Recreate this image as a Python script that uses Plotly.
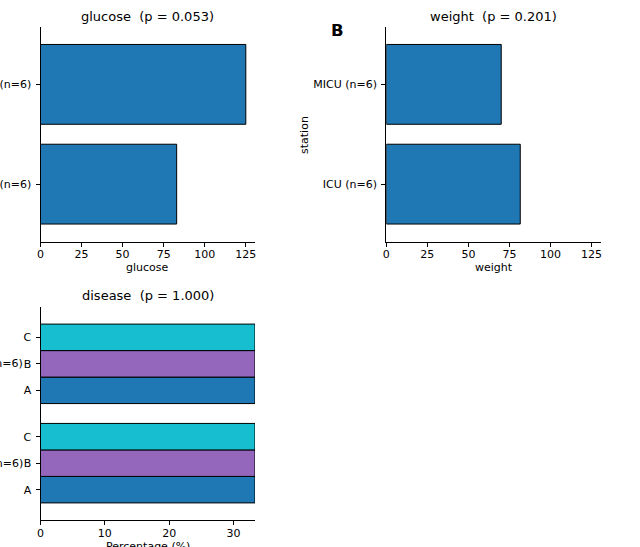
import plotly.graph_objects as go

# ---- data ----
stations = ["ICU (n=6)", "MICU (n=6)"]
glucose = [82.9, 125.0]
weight = [81.6, 70.0]
disease_cats = ["A", "B", "C"]
disease_A = [33.33, 33.33]
disease_B = [33.33, 33.33]
disease_C = [33.33, 33.33]
disease_vals = [disease_A, disease_B, disease_C]
disease_colors = ["#1f77b4", "#9467bd", "#17becf"]
titles = ["glucose  (p = 0.053)", "weight  (p = 0.201)", "disease  (p = 1.000)"]

W, H = 640, 547
FONT = "DejaVu Sans"
BLUE = "#1f77b4"
FS = 11

def px(x):
    return x / W

def py(y):
    return 1 - y / H

fig = go.Figure()

ypos = list(range(len(stations)))

# glucose
fig.add_trace(go.Bar(x=glucose, y=ypos, orientation="h", width=0.8,
                     marker=dict(color=BLUE, line=dict(color="black", width=1)),
                     xaxis="x", yaxis="y", showlegend=False))
# weight
fig.add_trace(go.Bar(x=weight, y=ypos, orientation="h", width=0.8,
                     marker=dict(color=BLUE, line=dict(color="black", width=1)),
                     xaxis="x2", yaxis="y2", showlegend=False))
# disease (grouped)
bw = 0.8 / len(disease_cats)
dis_tickvals, dis_ticktext = [], []
for j, (cat, vals, col) in enumerate(zip(disease_cats, disease_vals, disease_colors)):
    off = (j - (len(disease_cats) - 1) / 2) * bw
    yy = [i + off for i in ypos]
    fig.add_trace(go.Bar(x=vals, y=yy, orientation="h", width=bw,
                         marker=dict(color=col, line=dict(color="black", width=1)),
                         xaxis="x3", yaxis="y3", showlegend=False))
    dis_tickvals += yy
    dis_ticktext += [cat] * len(yy)

top_dom = [py(241.5), py(27)]
bot_dom = [py(520.3), py(306.7)]
xd1 = [px(40.5), px(255)]
xd2 = [px(386.3), px(600.7)]

axis_common = dict(showline=True, linecolor="black", linewidth=1, mirror=False,
                   showgrid=False, zeroline=False, ticks="outside", ticklen=4,
                   tickwidth=1, tickcolor="black", automargin=False,
                   tickfont=dict(family=FONT, size=FS, color="black"))
xax = dict(axis_common, ticklabelstandoff=-2)
yax = dict(axis_common, ticklabelstandoff=2)

fig.update_layout(
    width=W, height=H, margin=dict(l=0, r=0, t=0, b=0, autoexpand=False),
    paper_bgcolor="white", plot_bgcolor="white", barmode="overlay",
    font=dict(family=FONT, size=FS, color="black"),
    xaxis=dict(domain=xd1, anchor="y", range=[0, 130.6], tickvals=[0, 25, 50, 75, 100, 125], **xax),
    yaxis=dict(domain=top_dom, anchor="x", range=[-0.575, 1.575], tickvals=ypos, ticktext=stations, **yax),
    xaxis2=dict(domain=xd2, anchor="y2", range=[0, 130.6], tickvals=[0, 25, 50, 75, 100, 125], **xax),
    yaxis2=dict(domain=top_dom, anchor="x2", range=[-0.575, 1.575], tickvals=ypos, ticktext=stations, **yax),
    xaxis3=dict(domain=xd1, anchor="y3", range=[0, 33.33], tickvals=[0, 10, 20, 30], **xax),
    yaxis3=dict(domain=bot_dom, anchor="x3", range=[-0.575, 1.575], tickvals=dis_tickvals, ticktext=dis_ticktext, **yax),
)

ann = []
def text(x, y, s, size=FS, xanchor="center", **kw):
    d = dict(x=px(x), y=py(y), xref="paper", yref="paper", text=s, showarrow=False,
             xanchor=xanchor, yanchor="middle", borderpad=0,
             font=dict(family=FONT, size=size, color="black"))
    d.update(kw)
    ann.append(d)

# titles
text((40.5 + 255) / 2, 16.5, titles[0], size=13)
text((386.3 + 600.7) / 2, 16.5, titles[1], size=13)
text((40.5 + 255) / 2, 295, titles[2], size=13)
# axis labels
text((40.5 + 255) / 2, 268, "glucose")
text((386.3 + 600.7) / 2, 268, "weight")
text((40.5 + 255) / 2, 546, "Percentage (%)")
text(304, 135, "station", textangle=-90)
# group labels for disease
for i, s in enumerate(stations):
    yc = 520.3 - (i + 0.575) * (520.3 - 306.7) / 2.15
    text(23.5, yc, s, xanchor="right")
# panel letter
text(337.5, 31, "<b>B</b>", size=16.5)

fig.update_layout(annotations=ann)
fig.write_html("out.html")
